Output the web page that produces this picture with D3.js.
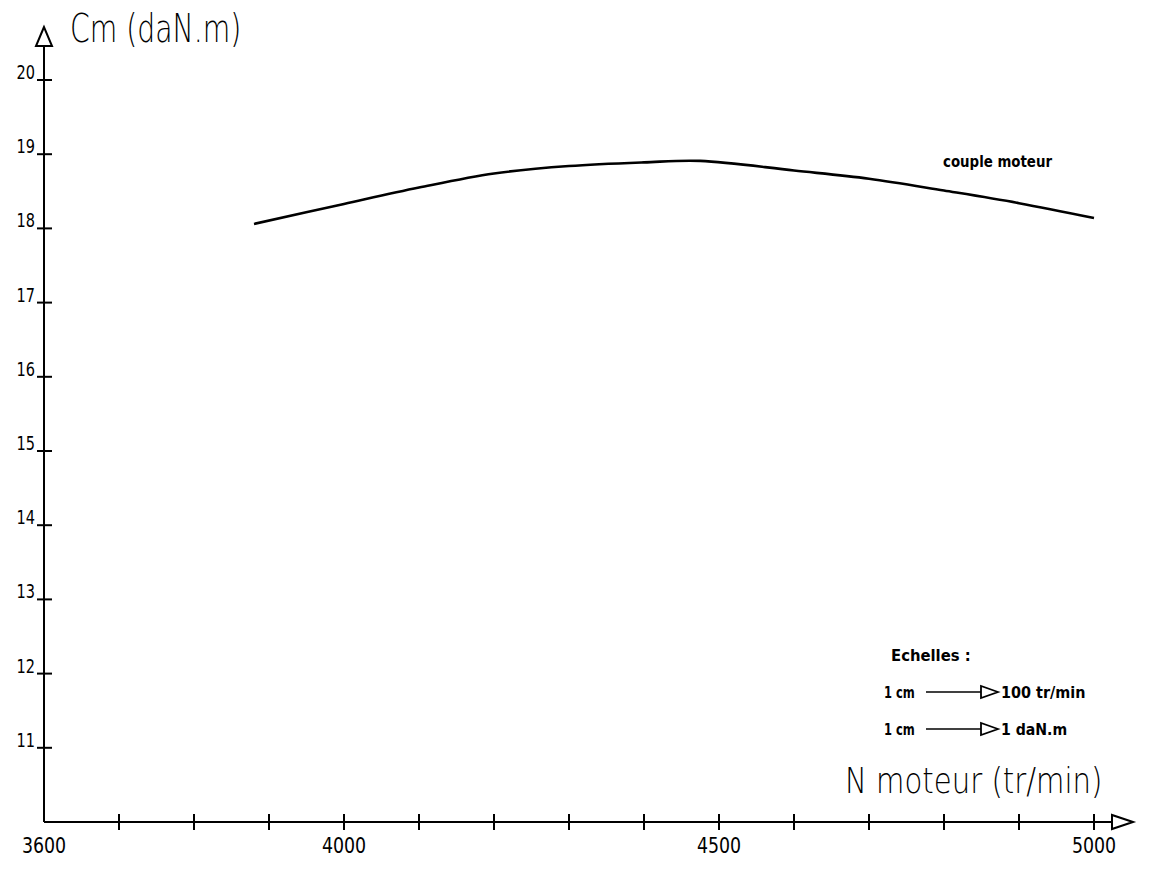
<!DOCTYPE html>
<html>
<head>
<meta charset="utf-8">
<script src="https://cdn.jsdelivr.net/npm/d3@7"></script>
<style>
  html, body { margin: 0; padding: 0; background: #fff; }
  svg { display: block; }
  text { fill: #000; }
</style>
</head>
<body>
<script>
// ---- data ----
const regimeN = [3880, 4000, 4100, 4200, 4300, 4400, 4475, 4600, 4700, 4800, 4900, 5000];
const coupleCm = [18.06, 18.33, 18.55, 18.74, 18.84, 18.89, 18.91, 18.78, 18.67, 18.51, 18.34, 18.14];
const xTickValues = [3600, 3700, 3800, 3900, 4000, 4100, 4200, 4300, 4400, 4500, 4600, 4700, 4800, 4900, 5000];
const xTickLabels = ["3600", "4000", "4500", "5000"];
const yTickValues = [11, 12, 13, 14, 15, 16, 17, 18, 19, 20];
const yTitle = "Cm (daN.m)";
const xTitle = "N moteur (tr/min)";
const seriesName = "couple moteur";
const scaleTitle = "Echelles :";
const scaleRows = [["1 cm", "100 tr/min"], ["1 cm", "1 daN.m"]];

const W = 1149, H = 870;
const svg = d3.select("body").append("svg").attr("width", W).attr("height", H);

const x = d3.scaleLinear().domain([3600, 5000]).range([44, 1094]);
const y = d3.scaleLinear().domain([10, 20]).range([822, 80]);
const x0 = x(3600), y0 = y(10);

const thinFont = "'DejaVu Sans', sans-serif";
const smallFont = "'DejaVu Sans Condensed', 'DejaVu Sans', sans-serif";

// squeezed text helper (horizontal scaling through a transform)
function squeezed(px, py, str, size, sx, weight, anchor) {
  const g = svg.append("g").attr("transform", `translate(${px},${py}) scale(${sx},1)`);
  return g.append("text").attr("x", 0).attr("y", 0)
    .attr("text-anchor", anchor || "start")
    .attr("font-family", weight === 200 ? thinFont : smallFont)
    .attr("font-weight", weight || "normal")
    .attr("font-size", size)
    .text(str);
}

// ---- axes lines ----
svg.append("line").attr("x1", x0).attr("y1", y0).attr("x2", x0).attr("y2", 46)
  .attr("stroke", "#000").attr("stroke-width", 2);
svg.append("path")
  .attr("d", `M${x0},27 L${x0 - 8},46 L${x0 + 8},46 Z`)
  .attr("fill", "#fff").attr("stroke", "#000").attr("stroke-width", 2);

svg.append("line").attr("x1", x0).attr("y1", y0).attr("x2", 1112).attr("y2", y0)
  .attr("stroke", "#000").attr("stroke-width", 2);
svg.append("path")
  .attr("d", `M1133,${y0} L1112,${y0 - 7} L1112,${y0 + 7} Z`)
  .attr("fill", "#fff").attr("stroke", "#000").attr("stroke-width", 2);

// ---- x ticks ----
svg.selectAll(".xt").data(xTickValues.filter(d => d !== 3600)).enter().append("line")
  .attr("x1", d => x(d)).attr("x2", d => x(d))
  .attr("y1", y0 - 8).attr("y2", y0 + 8)
  .attr("stroke", "#000").attr("stroke-width", 2);
xTickLabels.forEach(d => squeezed(x(+d), y0 + 31, d, 21, 0.92, "normal", "middle"));

// ---- y ticks ----
svg.selectAll(".yt").data(yTickValues).enter().append("line")
  .attr("x1", x0 - 7).attr("x2", x0 + 8)
  .attr("y1", d => y(d)).attr("y2", d => y(d))
  .attr("stroke", "#000").attr("stroke-width", 2);
yTickValues.forEach(d => squeezed(x0 - 9, y(d) - 1, String(d), 19, 0.85, "normal", "end"));

// ---- titles ----
squeezed(70, 42, yTitle, 39, 0.725, 200);
squeezed(845, 793, xTitle, 36, 0.81, 200);

// ---- curve ----
const pts = regimeN.map((n, i) => [n, coupleCm[i]]);
svg.append("path").datum(pts)
  .attr("d", d3.line().x(d => x(d[0])).y(d => y(d[1])).curve(d3.curveCatmullRom))
  .attr("fill", "none").attr("stroke", "#000").attr("stroke-width", 2.6);

squeezed(943, 167, seriesName, 15, 0.99, "bold");

// ---- scale legend ----
squeezed(891, 661, scaleTitle, 16, 1.03, "bold");
const rowY = [698, 735];
const rowSx = [1.0, 0.98];
scaleRows.forEach((r, i) => {
  const yy = rowY[i];
  squeezed(884, yy, r[0], 16, 0.8, "bold");
  svg.append("line").attr("x1", 926).attr("x2", 982).attr("y1", yy - 6).attr("y2", yy - 6)
    .attr("stroke", "#000").attr("stroke-width", 1.3);
  svg.append("path")
    .attr("d", `M998,${yy - 6} L981,${yy - 12} L981,${yy} Z`)
    .attr("fill", "#fff").attr("stroke", "#000").attr("stroke-width", 1.8);
  squeezed(1001, yy, r[1], 16, rowSx[i], "bold");
});
</script>
</body>
</html>
